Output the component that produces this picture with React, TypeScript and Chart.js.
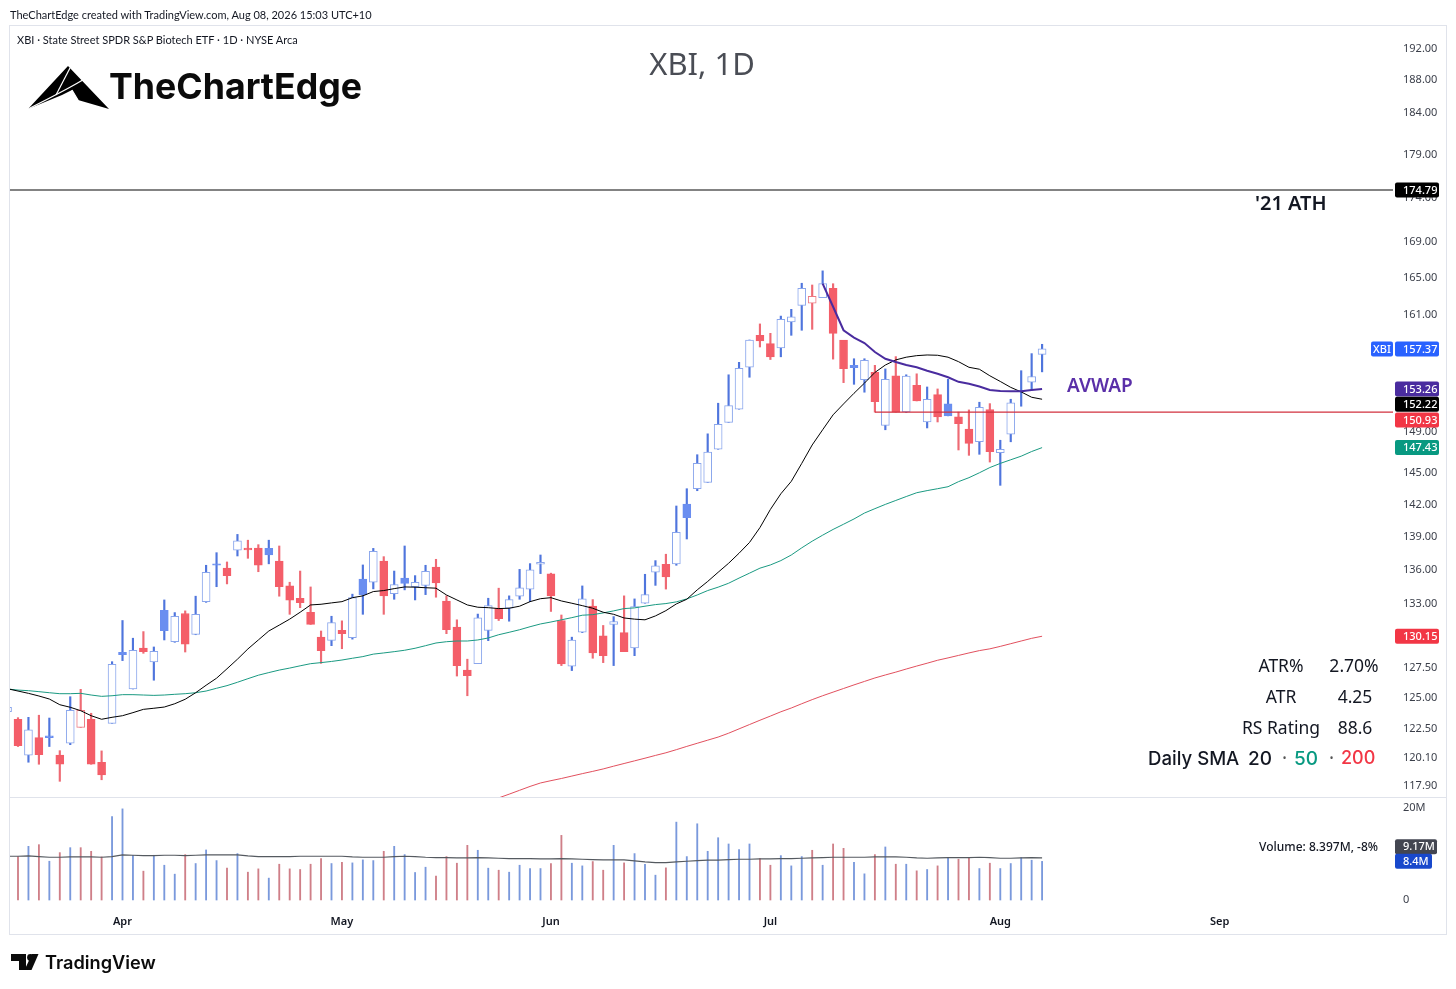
import { useEffect, useRef } from "react";
import { Chart, registerables } from "chart.js";

Chart.register(...registerables);

// one candle per trading day, index 0 is the one cut off by the left edge
const opens = [
  123.82, 123.2, 120.31, 121.72, 121.85, 120.31, 121.26, 122.54, 123.2, 119.75,
  122.87, 128.78, 125.69, 129.14, 127.96, 132.4, 129.68, 132.12, 130.31, 133.16,
  136.53, 136.14, 137.76, 137.95, 137.95, 137.93, 136.78, 134.55, 133.46, 132.23,
  130.07, 129.8, 130.66, 130.03, 135.15, 134.88, 136.78, 133.87, 135.25, 134.48,
  134.6, 136.24, 133.2, 130.94, 127.28, 127.81, 130.66, 132.55, 132.58, 133.64,
  134.27, 136.49, 135.62, 131.51, 127.6, 130.49, 132.76, 130.19, 131.17, 130.46,
  129.14, 133.02, 135.77, 136.49, 136.53, 142.02, 143.48, 144.08, 147.27, 149.91,
  151.22, 155.47, 158.79, 157.92, 157.47, 160.2, 161.97, 162.19, 162.79, 163.8,
  158.3, 155.67, 154.2, 154.95, 149.61, 154.6, 150.96, 153.63, 149.95, 152.68,
  151.75, 150.46, 149.24, 148.02, 151.18, 146.94, 148.75, 153.08, 153.96, 156.81,
];
const closes = [
  124.18, 121.07, 122.34, 120.36, 121.72, 119.59, 123.93, 123.93, 119.59, 118.76,
  127.76, 128.58, 128.95, 128.83, 128.86, 130.62, 131.88, 129.46, 132.05, 135.77,
  136.4, 135.47, 138.62, 137.79, 136.4, 137.33, 134.48, 133.28, 133.07, 131.17,
  128.91, 131.33, 130.37, 133.51, 133.78, 137.67, 133.67, 134.67, 134.78, 134.88,
  135.85, 134.82, 130.71, 127.65, 126.8, 131.75, 132.81, 131.68, 133.34, 134.39,
  136.0, 136.67, 133.67, 127.78, 129.83, 133.4, 128.72, 128.49, 131.42, 128.83,
  132.72, 133.78, 136.36, 135.35, 139.41, 140.76, 145.9, 147.0, 149.71, 151.58,
  155.37, 158.3, 158.2, 156.55, 160.47, 160.75, 163.8, 162.94, 164.3, 159.0,
  155.33, 155.43, 156.19, 151.98, 154.24, 150.93, 154.57, 152.05, 152.22, 150.46,
  150.56, 149.78, 147.85, 151.42, 147.03, 147.27, 151.85, 153.02, 154.53, 157.37,
];
const highs = [
  124.25, 123.33, 123.36, 123.53, 123.3, 120.67, 125.05, 125.66, 123.69, 120.65,
  127.98, 131.51, 129.98, 130.55, 129.23, 133.31, 132.2, 132.35, 133.64, 136.4,
  137.54, 136.7, 139.21, 138.68, 138.27, 138.68, 138.15, 134.88, 135.88, 134.46,
  130.6, 131.88, 131.48, 133.82, 136.43, 137.93, 137.18, 135.88, 138.15, 135.47,
  136.4, 136.94, 133.67, 131.57, 128.19, 132.07, 133.46, 134.35, 133.67, 136.03,
  136.55, 137.33, 135.69, 131.99, 130.07, 134.55, 133.34, 131.08, 131.85, 133.67,
  133.4, 135.59, 136.82, 137.4, 141.85, 143.48, 146.74, 148.78, 151.82, 154.7,
  155.98, 158.3, 159.99, 159.0, 160.82, 161.54, 164.35, 164.16, 165.7, 164.3,
  157.26, 156.35, 156.35, 155.67, 155.3, 156.57, 154.7, 154.8, 153.46, 153.26,
  154.24, 150.93, 151.15, 151.92, 151.78, 148.15, 152.22, 155.12, 156.88, 157.85,
];
const lows = [
  123.75, 121.0, 119.75, 119.59, 121.0, 118.25, 121.15, 122.54, 119.59, 118.37,
  122.87, 128.07, 125.69, 128.69, 126.42, 129.83, 129.63, 128.8, 130.28, 133.1,
  134.48, 134.73, 137.24, 137.03, 135.82, 136.53, 133.64, 132.05, 132.63, 131.17,
  127.84, 129.34, 129.08, 129.9, 132.05, 134.29, 132.05, 133.37, 134.2, 133.31,
  133.78, 133.55, 130.37, 126.77, 125.13, 127.81, 129.77, 131.51, 131.45, 133.37,
  133.16, 135.65, 132.3, 127.65, 127.23, 130.46, 128.27, 127.9, 127.65, 128.83,
  128.49, 133.02, 134.6, 134.27, 136.4, 138.79, 143.29, 144.08, 147.27, 149.91,
  151.22, 154.45, 157.57, 156.27, 156.55, 158.79, 159.32, 159.42, 162.79, 156.31,
  153.9, 153.73, 152.93, 150.93, 149.18, 150.93, 150.89, 152.05, 149.36, 149.95,
  150.56, 147.2, 146.68, 146.78, 146.03, 143.8, 148.0, 151.52, 153.16, 155.0,
];
// H hollow blue, h hollow red, B solid blue, R solid red
const kinds = (
  "HRHRBRHhRR" + "HBHRHBHRHH" + "BRHRRBRRRR" + "RHRHBHRHBH" + "HRRRRHHRHH" +
  "HHRRHHRRHR" + "HHHRHBHHHH" + "HHRRHHHhHR" + "RBHRHRHRHR" + "BRRHRHHBHH"
).split("");

const volumes = [
  9.0, 9.44, 11.67, 12.03, 8.43, 10.3, 11.38, 11.38, 10.59, 9.37,
  18.16, 19.81, 9.73, 6.27, 9.73, 7.56, 5.62, 9.87, 7.93, 10.88,
  8.57, 6.92, 10.09, 6.05, 6.77, 4.76, 7.78, 6.77, 6.63, 7.78,
  9.01, 7.93, 8.21, 8.07, 8.72, 8.57, 10.59, 11.67, 9.87, 5.98,
  7.13, 5.19, 9.44, 8.0, 11.89, 10.81, 6.92, 6.48, 6.05, 7.56,
  6.84, 6.84, 7.93, 14.05, 8.0, 7.42, 8.36, 6.48, 11.89, 8.07,
  10.09, 7.78, 5.4, 6.99, 16.93, 9.44, 16.57, 10.59, 13.54, 12.18,
  10.95, 12.18, 9.01, 7.56, 9.65, 7.42, 9.44, 10.81, 7.56, 12.18,
  11.24, 8.21, 5.69, 9.87, 11.53, 7.78, 7.78, 6.34, 6.63, 7.42,
  9.29, 8.86, 9.22, 6.84, 8.0, 6.84, 7.93, 9.22, 8.65, 8.4,
];
const volumeAvg = [
  9.51, 9.51, 9.58, 9.44, 9.29, 9.29, 9.37, 9.37, 9.37, 9.29,
  9.44, 9.8, 9.73, 9.65, 9.65, 9.73, 9.73, 9.65, 9.73, 9.8,
  9.8, 9.8, 9.8, 9.58, 9.44, 9.44, 9.44, 9.44, 9.51, 9.51,
  9.51, 9.51, 9.51, 9.37, 9.29, 9.29, 9.29, 9.44, 9.51, 9.44,
  9.29, 9.22, 9.22, 9.15, 9.15, 9.22, 9.15, 9.08, 9.01, 9.01,
  9.01, 8.93, 8.93, 9.01, 8.93, 8.86, 8.79, 8.72, 8.72, 8.72,
  8.5, 8.29, 8.14, 8.14, 8.29, 8.43, 8.57, 8.65, 8.65, 8.79,
  8.86, 8.86, 8.93, 8.93, 9.01, 9.01, 9.08, 9.15, 9.22, 9.29,
  9.29, 9.29, 9.29, 9.37, 9.37, 9.37, 9.29, 9.15, 9.08, 9.15,
  9.22, 9.22, 9.22, 9.29, 9.22, 9.08, 9.08, 9.15, 9.22, 9.17,
];

const sma20 = [
  125.71, 125.52, 125.33, 125.11, 124.86, 124.39, 124.18, 123.9, 123.49, 123.2,
  123.36, 123.49, 123.74, 124.01, 124.1, 124.2, 124.47, 124.84, 125.38, 126.0,
  126.59, 127.38, 128.19, 129.06, 129.83, 130.6, 131.11, 131.63, 132.23, 132.87,
  132.93, 133.05, 133.16, 133.51, 133.67, 134.05, 134.14, 134.31, 134.46, 134.44,
  134.39, 134.35, 133.75, 133.31, 132.87, 132.67, 132.63, 132.55, 132.58, 132.76,
  133.16, 133.42, 133.51, 133.22, 133.02, 132.81, 132.58, 132.23, 132.05, 131.73,
  131.63, 131.57, 131.91, 132.37, 132.96, 133.37, 134.2, 134.95, 135.77, 136.58,
  137.49, 138.47, 139.84, 141.53, 143.0, 144.18, 145.9, 147.69, 149.18, 150.66,
  151.75, 152.82, 153.85, 154.94, 155.7, 156.23, 156.51, 156.67, 156.74, 156.71,
  156.51, 156.05, 155.47, 155.27, 154.6, 154.02, 153.42, 152.96, 152.42, 152.22,
];
const sma50 = [
  125.69, 125.6, 125.55, 125.47, 125.38, 125.3, 125.3, 125.33, 125.19, 125.08,
  125.13, 125.22, 125.22, 125.19, 125.16, 125.19, 125.25, 125.3, 125.38, 125.52,
  125.75, 125.97, 126.25, 126.55, 126.84, 127.06, 127.27, 127.44, 127.63, 127.81,
  127.9, 128.0, 128.12, 128.27, 128.41, 128.62, 128.72, 128.83, 128.95, 129.12,
  129.34, 129.57, 129.68, 129.74, 129.74, 129.83, 130.0, 130.28, 130.49, 130.71,
  130.97, 131.21, 131.38, 131.57, 131.76, 131.97, 132.02, 132.17, 132.35, 132.55,
  132.61, 132.76, 132.9, 132.99, 133.14, 133.4, 133.75, 134.14, 134.44, 134.79,
  135.25, 135.69, 136.14, 136.43, 136.82, 137.33, 137.98, 138.59, 139.14, 139.67,
  140.15, 140.64, 141.19, 141.6, 142.0, 142.37, 142.74, 143.1, 143.3, 143.48,
  143.67, 144.15, 144.53, 145.0, 145.5, 145.9, 146.25, 146.6, 147.05, 147.43,
];
// the 200 day line only enters the pane from this bar on
const sma200Start = 47;
const sma200 = [
  116.96, 117.25, 117.55, 117.85, 118.12, 118.3, 118.47, 118.66, 118.85, 119.03,
  119.22, 119.44, 119.65, 119.86, 120.07, 120.29, 120.5, 120.75, 121.01, 121.26,
  121.51, 121.76, 122.07, 122.42, 122.77, 123.12, 123.46, 123.81, 124.12, 124.47,
  124.81, 125.13, 125.43, 125.73, 126.03, 126.32, 126.61, 126.86, 127.1, 127.36,
  127.61, 127.85, 128.1, 128.3, 128.51, 128.72, 128.92, 129.07, 129.28, 129.51,
  129.74, 129.97, 130.15,
];
const avwapStart = 78;
const avwap = [
  164.3, 161.82, 159.32, 158.55, 157.98, 157.05, 156.35, 156.01, 155.7, 155.47,
  155.12, 154.8, 154.45, 153.98, 153.78, 153.51, 153.16, 153.06, 153.03, 153.03,
  153.16, 153.26,
];

const athLevel = 174.79;
const supportLevel = 150.93;
const supportStart = 83;

const priceTicks = [
  192, 188, 184, 179, 174, 169, 165, 161, 153, 149, 145, 142, 139, 136, 133,
  127.5, 125, 122.5, 120.1, 117.9,
];
const volumeTicks = [20, 0];
const monthTicks = [11, 32, 52, 73, 95, 116];
const monthLabels = ["Apr", "May", "Jun", "Jul", "Aug", "Sep"];

const BLUE = "#2962ff";
const RED = "#f23645";
const UI_FONT = '"Noto Sans", sans-serif';

const series = (values: number[], start = 0) =>
  values.map((y, i) => ({ x: i + start, y }));

const flat = (y: number, from: number, to: number) => [
  { x: from, y },
  { x: to, y },
];

const bodyFill: Record<string, string> = {
  H: "#ffffff",
  h: "#ffffff",
  B: "#6a8ef0",
  R: "#f45e69",
};
const bodyEdge: Record<string, string> = {
  H: "#8aa6ec",
  h: "#ec7a83",
  B: "#6a8ef0",
  R: "#f45e69",
};
const isRed = (k: string) => k === "R" || k === "h";

// value tags on the price axis; dy moves those that would overlap
const priceTags = [
  { value: athLevel, text: "174.79", color: "#000000", dy: 0 },
  { value: closes[closes.length - 1], text: "157.37", color: BLUE, dy: 0 },
  { value: avwap[avwap.length - 1], text: "153.26", color: "#4a2c9f", dy: 0 },
  { value: sma20[sma20.length - 1], text: "152.22", color: "#000000", dy: 5 },
  { value: supportLevel, text: "150.93", color: RED, dy: 8 },
  { value: sma50[sma50.length - 1], text: "147.43", color: "#089981", dy: 0 },
  { value: sma200[sma200.length - 1], text: "130.15", color: RED, dy: 0 },
];
const volumeTags = [
  { value: 9.17, text: "9.17M", color: "#434651", dy: -11, w: 42 },
  { value: 8.4, text: "8.4M", color: "#1848cc", dy: 0, w: 37 },
];

const paneFrame = {
  id: "paneFrame",
  beforeDraw(chart: Chart) {
    const { ctx } = chart;
    ctx.save();
    ctx.fillStyle = "#ffffff";
    ctx.fillRect(0, 0, chart.width, chart.height);
    ctx.strokeStyle = "#e0e3eb";
    ctx.lineWidth = 1;
    ctx.strokeRect(9.5, 25.5, 1437, 909);
    ctx.beginPath();
    ctx.moveTo(10, 797.5);
    ctx.lineTo(1446, 797.5);
    ctx.stroke();
    ctx.restore();
  },
  afterDraw(chart: Chart) {
    const { ctx } = chart;
    const tag = (y: number, text: string, color: string, w: number) => {
      ctx.fillStyle = color;
      ctx.beginPath();
      ctx.roundRect(1395, y - 7.5, w, 15, 2);
      ctx.fill();
      ctx.fillStyle = "#ffffff";
      ctx.fillText(text, 1403, y + 0.5);
    };
    ctx.save();
    ctx.font = `500 11px ${UI_FONT}`;
    ctx.textBaseline = "middle";
    ctx.textAlign = "left";
    const yPrice = chart.scales.y;
    const yVol = chart.scales.yVol;
    priceTags.forEach((t) =>
      tag(yPrice.getPixelForValue(t.value) + t.dy, t.text, t.color, 44)
    );
    volumeTags.forEach((t) =>
      tag(yVol.getPixelForValue(t.value) + t.dy, t.text, t.color, t.w)
    );
    // ticker name beside the last price
    const last = yPrice.getPixelForValue(closes[closes.length - 1]);
    ctx.fillStyle = BLUE;
    ctx.beginPath();
    ctx.roundRect(1371, last - 7.5, 22, 15, 2);
    ctx.fill();
    ctx.fillStyle = "#ffffff";
    ctx.textAlign = "center";
    ctx.fillText("XBI", 1382, last + 0.5);
    ctx.restore();
  },
};

function PriceChart() {
  const canvasRef = useRef<HTMLCanvasElement>(null);

  useEffect(() => {
    const canvas = canvasRef.current;
    if (!canvas) return;

    const xMin = 0.2344;
    const xMax = 132.58;

    const chart = new Chart(canvas, {
      type: "bar",
      data: {
        datasets: [
          {
            type: "line",
            data: flat(athLevel, xMin, xMax),
            borderColor: "#5a5a5a",
            borderWidth: 1.4,
            pointRadius: 0,
            order: 0,
          },
          {
            type: "line",
            data: flat(supportLevel, supportStart, xMax),
            borderColor: "#d2303e",
            borderWidth: 1.2,
            pointRadius: 0,
            order: 0,
          },
          {
            type: "line",
            data: series(avwap, avwapStart),
            borderColor: "#4a2c9f",
            borderWidth: 2,
            pointRadius: 0,
            order: 0,
          },
          {
            type: "line",
            data: series(sma20),
            borderColor: "#000000",
            borderWidth: 1,
            pointRadius: 0,
            order: 0,
          },
          {
            type: "line",
            data: series(sma50),
            borderColor: "#1a9a82",
            borderWidth: 1,
            pointRadius: 0,
            order: 0,
          },
          {
            type: "line",
            data: series(sma200, sma200Start),
            borderColor: "#e2505e",
            borderWidth: 1,
            pointRadius: 0,
            order: 0,
          },
          {
            // candle bodies sit over the wicks so hollow ones stay white inside
            data: opens.map((o, i) => ({ x: i, y: [o, closes[i]] })),
            backgroundColor: kinds.map((k) => bodyFill[k]),
            borderColor: kinds.map((k) => bodyEdge[k]),
            borderWidth: 1,
            borderSkipped: false,
            barThickness: 8,
            grouped: false,
            order: 1,
          },
          {
            data: lows.map((l, i) => ({ x: i, y: [l, highs[i]] })),
            backgroundColor: kinds.map((k) => (isRed(k) ? "#ee6a74" : "#4f75dd")),
            barThickness: 1.5,
            grouped: false,
            order: 2,
          },
          {
            type: "line",
            data: series(volumeAvg),
            borderColor: "#555a60",
            borderWidth: 1.2,
            pointRadius: 0,
            yAxisID: "yVol",
            order: 0,
          },
          {
            data: volumes.map((v, i) => ({ x: i, y: v })),
            backgroundColor: kinds.map((k) => (isRed(k) ? "#cf7f88" : "#7a99dc")),
            barThickness: 1.2,
            grouped: false,
            yAxisID: "yVol",
            order: 3,
          },
        ] as any,
      },
      options: {
        animation: false,
        responsive: false,
        devicePixelRatio: 1,
        layout: { padding: { left: 10, top: 26, right: 10, bottom: 55 } },
        plugins: {
          legend: { display: false },
          tooltip: { enabled: false },
        },
        scales: {
          x: {
            type: "linear",
            offset: false,
            min: xMin,
            max: xMax,
            grid: { display: false, drawTicks: false },
            border: { display: false },
            afterFit: (s: any) => {
              s.height = 24;
            },
            afterBuildTicks: (s: any) => {
              s.ticks = monthTicks.map((value) => ({ value }));
            },
            ticks: {
              autoSkip: false,
              maxRotation: 0,
              padding: 5,
              color: "#131722",
              font: { family: UI_FONT, size: 11, weight: 600 },
              callback: (v: any) => monthLabels[monthTicks.indexOf(Number(v))],
            },
          },
          y: {
            type: "logarithmic",
            position: "right",
            stack: "panes",
            stackWeight: 771,
            min: 117.03,
            max: 194.81,
            grid: { display: false, drawTicks: false },
            border: { display: false },
            afterFit: (s: any) => {
              s.width = 53;
            },
            afterBuildTicks: (s: any) => {
              s.ticks = priceTicks.map((value) => ({ value }));
            },
            ticks: {
              autoSkip: false,
              padding: 10,
              labelOffset: 0.5,
              color: "#3b3f4a",
              font: { family: UI_FONT, size: 11 },
              callback: (v: any) => Number(v).toFixed(2),
            },
          },
          yVol: {
            type: "linear",
            position: "right",
            stack: "panes",
            stackWeight: 113,
            min: -2.17,
            max: 22.39,
            grid: { display: false, drawTicks: false },
            border: { display: false },
            afterFit: (s: any) => {
              s.width = 53;
            },
            afterBuildTicks: (s: any) => {
              s.ticks = volumeTicks.map((value) => ({ value }));
            },
            ticks: {
              autoSkip: false,
              padding: 10,
              color: "#3b3f4a",
              font: { family: UI_FONT, size: 11 },
              callback: (v: any) => (v === 0 ? "0" : `${v}M`),
            },
          },
        },
      },
      plugins: [paneFrame],
    });

    return () => {
      chart.destroy();
    };
  }, []);

  return <canvas ref={canvasRef} width={1456} height={989} style={{ display: "block" }} />;
}

function Label({
  x,
  y,
  size,
  color = "#131722",
  weight = 400,
  align = "left",
  font = UI_FONT,
  children,
}: {
  x: number;
  y: number;
  size: number;
  color?: string;
  weight?: number;
  align?: "left" | "center" | "right";
  font?: string;
  children: React.ReactNode;
}) {
  const shift = align === "left" ? "0" : align === "center" ? "-50%" : "-100%";
  return (
    <div
      style={{
        position: "absolute",
        left: x,
        top: y,
        transform: `translate(${shift}, -50%)`,
        fontFamily: font,
        fontSize: size,
        fontWeight: weight,
        color,
        whiteSpace: "nowrap",
        lineHeight: 1,
      }}
    >
      {children}
    </div>
  );
}

export default function App() {
  return (
    <div
      style={{
        position: "absolute",
        left: 0,
        top: 0,
        width: 1456,
        height: 989,
        background: "#fff",
        overflow: "hidden",
      }}
    >
      <PriceChart />

      <Label x={10} y={14} size={11} font="Lato, sans-serif">
        TheChartEdge created with TradingView.com, Aug 08, 2026 15:03 UTC+10
      </Label>
      <Label x={17} y={39} size={11} font="Lato, sans-serif">
        XBI · State Street SPDR S&amp;P Biotech ETF · 1D · NYSE Arca
      </Label>
      <Label x={702} y={63} size={31} align="center" color="#4a4d55">
        XBI, 1D
      </Label>

      {/* logo */}
      <svg style={{ position: "absolute", left: 0, top: 0 }} width={120} height={120}>
        <polygon points="68,66 109,109 78,100 72,90 62,95 28,109" fill="#000" />
        <path d="M70 68 L56 95" stroke="#fff" strokeWidth={1.2} />
        <path d="M28 109 C50 98 70 88 86 78" stroke="#fff" strokeWidth={1.2} fill="none" />
        <path d="M72 90 L78 100 L66 97" stroke="#fff" strokeWidth={1.2} fill="none" />
      </svg>
      <Label x={109} y={87} size={35.7} weight={700} font="Inter, sans-serif" color="#0b0b0b">
        TheChartEdge
      </Label>

      <Label x={1255} y={203} size={20} weight={600}>
        '21 ATH
      </Label>
      <Label x={1067} y={385} size={19} weight={600} color="#5a2fa8">
        AVWAP
      </Label>

      <Label x={1281} y={666} size={17.5} align="center">ATR%</Label>
      <Label x={1354} y={666} size={17.5} align="center">2.70%</Label>
      <Label x={1281} y={697} size={17.5} align="center">ATR</Label>
      <Label x={1355} y={697} size={17.5} align="center">4.25</Label>
      <Label x={1281} y={728} size={17.5} align="center">RS Rating</Label>
      <Label x={1355} y={728} size={17.5} align="center">88.6</Label>

      <Label x={1148} y={758} size={18.6} weight={500} font="Inter, sans-serif">Daily SMA</Label>
      <Label x={1248} y={758} size={19} weight={500} font="Inter, sans-serif">20</Label>
      <Label x={1282} y={758} size={19} color="#555">·</Label>
      <Label x={1294} y={758} size={19} weight={500} color="#089981" font="Inter, sans-serif">50</Label>
      <Label x={1329} y={758} size={19} color="#555">·</Label>
      <Label x={1341} y={758} size={18} weight={500} color="#f23645" font="Inter, sans-serif">200</Label>

      <Label x={1378} y={847} size={12} align="right" weight={500}>
        Volume: 8.397M, -8%
      </Label>

      {/* TradingView mark */}
      <svg style={{ position: "absolute", left: 0, top: 945 }} width={44} height={32}>
        <polygon points="11,9 26,9 26,25 19,25 19,16 11,16" fill="#0b0b0b" />
        <circle cx={30.5} cy={12.5} r={3.4} fill="#0b0b0b" />
        <polygon points="31.5,25 24.5,25 32,9 38.5,9" fill="#0b0b0b" />
      </svg>
      <Label x={45} y={962} size={18.2} weight={600} font="Inter, sans-serif" color="#0b0b0b">
        TradingView
      </Label>
    </div>
  );
}
